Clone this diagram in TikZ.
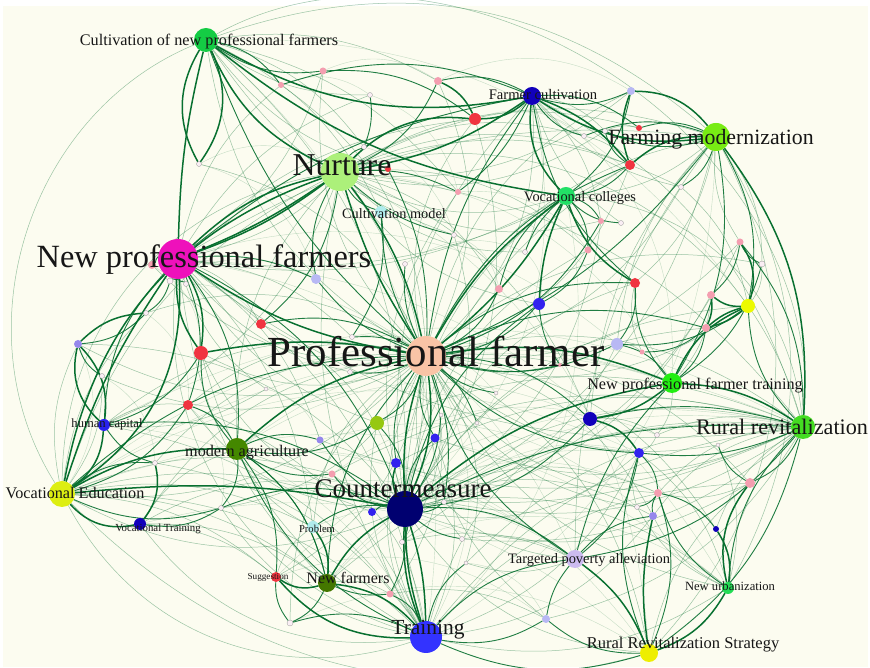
\documentclass[tikz,border=0pt]{standalone}
\usepackage{fontspec}
\setmainfont{Liberation Serif}
\pgfdeclarelayer{bglayer}
\pgfdeclarelayer{edgelayer}
\pgfsetlayers{bglayer,edgelayer,main}
% palette
\definecolor{bgc}{RGB}{252,252,240}
\definecolor{eg}{RGB}{8,112,48}
\definecolor{labc}{RGB}{22,22,22}
\definecolor{cred}{RGB}{240,52,64}
\definecolor{cpink}{RGB}{244,158,176}
\definecolor{cwhite}{RGB}{250,238,244}
\definecolor{clav}{RGB}{184,184,244}
\definecolor{cpurp}{RGB}{150,136,236}
\definecolor{cblue}{RGB}{50,34,238}
\definecolor{cnavy}{RGB}{17,0,187}
\definecolor{cyg}{RGB}{150,200,17}
\definecolor{cyel}{RGB}{236,250,0}
\definecolor{c1}{RGB}{20,204,68}
\definecolor{c3}{RGB}{120,236,20}
\definecolor{c4}{RGB}{172,240,122}
\definecolor{c5}{RGB}{176,236,236}
\definecolor{c6}{RGB}{34,224,102}
\definecolor{c7}{RGB}{238,17,187}
\definecolor{c8}{RGB}{249,196,166}
\definecolor{c9}{RGB}{34,238,17}
\definecolor{c10}{RGB}{68,220,34}
\definecolor{cblue2}{RGB}{40,34,238}
\definecolor{c12}{RGB}{68,136,0}
\definecolor{c12b}{RGB}{68,119,0}
\definecolor{c13}{RGB}{221,238,17}
\definecolor{c14}{RGB}{0,0,112}
\definecolor{c17}{RGB}{204,187,240}
\definecolor{c20}{RGB}{34,221,85}
\definecolor{c21}{RGB}{51,51,255}
\definecolor{c22}{RGB}{238,238,0}
\tikzset{
  dot/.style={circle, inner sep=0pt, outer sep=0pt},
  wdot/.style={dot, fill=cwhite, draw=black!40, line width=0.3pt},
  e1/.style={draw=eg, line width=1.5pt},
  e2/.style={draw=eg, line width=0.9pt, draw opacity=0.9},
  e3/.style={draw=eg, line width=0.5pt, draw opacity=0.4},
  e4/.style={draw=eg, line width=0.4pt, draw opacity=0.22},
  lab/.style={anchor=base, text=labc, inner sep=0pt},
}
\begin{document}
\begin{tikzpicture}[x=1pt,y=1pt]
\useasboundingbox (0,0) rectangle (870,668);
\begin{pgfonlayer}{bglayer}
  \fill[white] (0,0) rectangle (870,668);
  \fill[bgc] (3,1) rectangle (868,662);
\end{pgfonlayer}

% keyword nodes
\foreach \n/\x/\y/\d/\c in {
  cnpf/206/628/24/c1, fc/532/572/18/cnavy, fm/716/531/28/c3, nur/340/496/38/c4,
  cmod/381/456/12/c5, vc/566/472/18/c6, npf/178/409/40/c7, pf/426/312/40/c8,
  npft/672/285/20/c9, rr/803/241/24/c10, hc/104/243/12/cblue2, ma/237/219/22/c12,
  ve/62/174/26/c13, cm/405/159/36/c14, vt/140/144/12/cnavy, prob/313/141/12/c5,
  tpa/575/109/18/c17, sug/276/91/10/cred, nf/327/85/18/c12b, nu/728/80/12/c20,
  tr/426/31/32/c21, rrs/649/15/18/c22}
  \node[dot, fill=\c, minimum size=\d pt] (\n) at (\x,\y) {};

% minor coloured nodes
\foreach \n/\x/\y/\d/\c in {
  a1/281/583/6/cpink, a2/323/597/7/cpink, a3/438/587/8/cpink, a5/475/549/12/cred,
  a7/388/499/6/cred, a8/458/476/6/cpink, a10/631/577/8/clav, a11/639/540/6/cred,
  a13/630/503/10/cred, a16/152/403/8/cpink, a20/78/324/8/cpurp, a22/201/315/14/cred,
  a23/261/344/10/cred, a24/188/263/10/cred, a28/316/389/10/clav, a29/499/379/8/cpink,
  a30/539/364/12/cblue, a32/588/418/7/cpink, a35/377/245/14/cyg, a36/435/230/9/cblue,
  a37/320/228/7/cpurp, a38/590/249/14/cnavy, a42/601/447/6/cpink, a44/740/426/7/cpink,
  a46/635/385/10/cred, a47/711/373/8/cpink, a48/748/362/14/cyel, a49/706/340/8/cpink,
  a50/617/324/12/clav, a51/642/316/5/cpink, a56/396/205/10/cblue, a57/332/194/7/cpink,
  a58/372/156/8/cblue, a63/390/74/7/cpink, a64/546/49/8/clav, a65/639/215/10/cblue,
  a67/750/185/10/cpink, a68/658/175/8/cpink, a70/653/152/8/cpurp, a71/716/139/6/cnavy,
  a72/560/303/4/cpink}
  \node[dot, fill=\c, minimum size=\d pt] (\n) at (\x,\y) {};

% minor pale nodes
\foreach \n/\x/\y/\d in {
  a4/370/573/5, a6/364/521/5, a9/584/532/5, a12/605/537/5, a14/681/481/5,
  a15/199/504/5, a17/170/387/6, a18/186/384/5, a19/146/355/5, a21/102/292/5,
  a25/266/279/4, a26/454/433/5, a27/405/404/5, a31/525/416/5, a33/352/331/5,
  a34/350/296/5, a39/441/253/4, a40/477/245/4, a41/496/275/4, a43/621/445/5,
  a45/762/404/6, a52/657/233/5, a53/155/205/5, a54/221/160/5, a55/290/45/6,
  a59/444/166/5, a60/402/126/5, a61/462/129/5, a62/466/105/4, a66/718/223/4,
  a69/637/161/5}
  \node[wdot, minimum size=\d pt] (\n) at (\x,\y) {};

\begin{pgfonlayer}{edgelayer}
% long outer arcs
\draw[e3] (cnpf) to[bend left=30] (fm);
\draw[e3] (cnpf) to[bend left=62] (rr);
\draw[e3] (ve) to[bend left=50] (cnpf);
\draw[e3] (ve) to[bend left=40] (nur);
\draw[e3] (ve) to[bend right=40] (tr);
\draw[e3] (vt) to[bend right=30] (tr);
\draw[e3] (ve) to[bend right=30] (rrs);
\draw[e3] (fm) to[bend left=35] (rrs);
\draw[e3] (fm) to[bend left=30] (nu);
\draw[e3] (vc) to[bend left=40] (rr);
\draw[e3] (nur) to[bend left=45] (rr);
\draw[e3] (npf) to[bend right=40] (tr);

% faint mesh
\foreach \a/\b in {
  pf/cnpf, fc/pf, pf/fm, pf/rr, hc/pf, pf/ve, vt/pf, prob/pf, pf/sug, nu/pf, tr/pf, pf/rrs,
  a1/pf, pf/a5, a13/pf, pf/a22, a24/pf, pf/a20, a48/pf, pf/a67, a68/pf, pf/a70, a64/pf,
  pf/a63, a44/pf, pf/a45, a14/pf, pf/a10, a3/pf, pf/a2, a15/pf, pf/a16, a19/pf, pf/a21,
  a53/pf, pf/a54, a55/pf, pf/a60, a61/pf, pf/a62, a66/pf, pf/a71, a69/pf,
  cnpf/cm, cm/fc, fm/cm, cm/vc, nur/cm, cm/rr, cm/ve, vt/cm, cm/nu, rrs/cm, cm/a13,
  a5/cm, cm/a48, a50/cm, cm/a46, a67/cm, cm/a68, a65/cm, cm/a70, a20/cm, cm/a22,
  a23/cm, cm/a24, a44/cm, cm/a49, a47/cm, cm/a32, a42/cm, cm/a8, a26/cm}
  \draw[e3] (\a) to[bend left=25] (\b);
\foreach \a/\b in {
  tr/npf, nur/tr, tr/ve, tr/hc, rr/tr, tr/nu, a67/tr, tr/a65, a38/tr, tr/a70, a22/tr,
  tr/a24, a54/tr, tr/a53, a35/tr, tr/a36, a56/tr, tr/a57,
  rr/nur, npf/rr, rr/fc, ma/rr, rr/a35, a36/rr, rr/a56, rr/a68, a59/rr, rr/nf, a37/rr,
  rr/a57, rr/a60, a61/rr, rr/a62, a64/rr, rr/a70,
  fm/nur, nur/vc, a13/nur, nur/a10, a11/nur, nur/ve, hc/nur, nur/ma, a38/nur, nur/a30,
  a29/nur, nur/a31, a32/nur, nur/a42, a9/nur, nur/a12, a14/nur}
  \draw[e3] (\a) to[bend right=22] (\b);
\foreach \a/\b in {
  npf/fm, vc/npf, npf/a5, a13/npf, nf/npf, npf/prob, a35/npf, npf/a1, a2/npf, npf/a4,
  a6/npf, npf/a23, a25/npf, npf/a33, a34/npf, npf/a37,
  fm/vc, a50/fm, fm/a46, a38/fm, tpa/fm, cnpf/a3, a4/cnpf, cnpf/a6, a7/cnpf, cnpf/a8,
  cnpf/cmod, a26/cnpf, fc/a12, a14/fc, fc/a42, a43/fc, fc/a31, ve/a20, a21/ve, ve/a19,
  hc/a24, a25/hc, vt/ma, prob/ma, sug/prob, vt/sug, ve/sug, ve/nf, vt/nf, nf/a63,
  a63/a64, tpa/a62, a61/tpa, tpa/a59, a60/tpa, nu/a70, a65/nu, nu/a69, a66/nu, a71/rr,
  rrs/a67, a67/a68, a69/a65, a52/a65, a52/rr, npft/a52, a38/a52, a50/a51, a51/a46,
  a47/npft, a45/a48, a44/fm, fm/a45, a14/a48, a9/a13, a12/a11, ve/prob, ve/a57, ve/a58}
  \draw[e3] (\a) to[bend left=18] (\b);
\foreach \a/\b in {
  pf/tr, ve/rr, hc/tr, npf/tpa, nur/rrs, fc/cm, fm/tr, vc/tr, cnpf/tr, npf/nu, ma/rrs,
  ve/tpa, vt/rrs, hc/rr, ve/npft, ma/npft, nf/rr, sug/rr, prob/tpa, a53/nu, a54/tpa,
  nur/npft, fc/npft, cnpf/a48, npf/a50, ve/a65, ma/a38, nf/a65, sug/a64, a55/rrs,
  a57/a52, a37/a69, a58/a68, a60/nu, a62/a64, a59/a65, a33/a41, a34/a39, a27/a31,
  a26/a29, a6/a26, a4/a8, a1/a4, a2/a3, a3/a10, a5/a9, a8/a32, a31/a30, a25/a37,
  a21/a53, a19/a24, a16/a22, a18/a23, a17/a28, a15/a28, a15/nur, a20/ve, a24/a54}
  \draw[e4] (\a) to[bend left=28] (\b);

% medium links
\foreach \a/\b in {
  cnpf/a1, a2/cnpf, a2/a5, a1/fc, nur/a7, a3/nur, a3/fc, cmod/nur, cmod/a33, nur/a23,
  a28/nur, a16/npf, npf/a17, a18/npf, a17/a19, a19/a20, a21/a20, npf/a24, hc/npf,
  npf/ma, npf/cm, a22/hc, ma/a22, a23/pf, a24/ve, a24/ma, hc/cm, a53/hc, ve/pf,
  ve/a53, a54/ve, a54/vt, ma/a54, a54/cm, ma/a37, ma/nf, tr/ma, a35/ma, pf/a35,
  a35/cm, a36/pf, cm/a36, a56/pf, a58/cm, cm/a57, a57/ma, cm/tpa, a59/cm, a38/cm,
  cm/a30, a63/tr, a64/tr, tr/tpa, rrs/tr, a55/tr, tr/a62, nf/a55, a55/sug}
  \draw[e2] (\a) to[bend left=20] (\b);
\foreach \a/\b in {
  nf/ma, pf/nf, cm/prob, sug/ma, a70/tpa, tpa/a65, tpa/rr, pf/tpa, rrs/a68, rrs/rr,
  a65/rrs, a64/rrs, a68/a70, a69/a68, a68/a65, pf/a65, a67/rr, rr/nu, a68/nu, a66/a67,
  a71/a68, a38/pf, npft/a50, a50/a48, pf/a50, a50/a46, a51/a49, a46/pf, fc/a46,
  a46/npft, a47/a44, a44/a45, npft/a45, rr/a44, a48/rr, npft/a49, a49/pf, a48/fm,
  npft/fm, a14/fm, fm/a9, fm/a11, a12/fm, fc/a10, vc/a10, a11/fc, vc/a13, a13/pf,
  a12/a13, fc/a9, a42/vc, vc/a43, a32/vc, pf/a42, a30/a32, vc/a29, pf/a29, pf/a30}
  \draw[e2] (\a) to[bend right=20] (\b);
\foreach \a/\b in {
  a31/vc, fc/a8, nur/a8, a26/nur, pf/a27, pf/cmod, a4/a6, nur/a6, a7/pf, pf/a28,
  npf/a28, a33/pf, pf/a34, cm/a37, a39/cm, pf/a40, a41/pf, pf/a59, cm/a60, a61/cm,
  a64/tpa, cm/a63, a63/nf, pf/fc, fm/pf, npf/fc, pf/cnpf, tpa/npft, cm/rr, a38/rr,
  rr/a65, a72/pf, a72/a30}
  \draw[e2] (\a) to[bend left=14] (\b);

% strongest links
\foreach \a/\b/\c in {
  cnpf/a15/30, a15/cnpf/30, cnpf/npf/-6, cnpf/nur/-20, npf/nur/15, nur/npf/8,
  npf/nur/-6, npf/ve/30, ve/npf/8, ve/nur/30, npf/a22/18, a22/npf/18, npf/pf/-12,
  nur/pf/12, pf/nur/8, nur/a5/25, nur/fc/-12, fc/a5/20, fc/fm/-20, vc/fc/25,
  fc/a13/15, a10/fm/25, a13/a10/20, fm/a13/-20, vc/pf/10, pf/vc/12, vc/a30/-10,
  a46/vc/20, a48/a49/12, a49/a48/12, a48/a47/20, npft/a48/20, a44/a48/25, a20/hc/25,
  hc/a20/30, a20/a19/20, hc/ve/25, ve/ma/15, ve/cm/8, vt/ve/30, vt/a53/-25, ma/pf/15,
  cm/tr/8, tr/cm/8, cm/tr/-12, nf/cm/15, cm/a56/20, pf/cm/15, cm/pf/10, nf/tr/20,
  sug/tr/-25, nf/sug/25, prob/nf/20, rrs/a70/10, tpa/rrs/15, nu/rrs/20, a71/nu/20,
  nu/a67/25, a38/a65/20, npft/a38/15, pf/npft/15, cm/npft/15, a47/a49/15, fc/cnpf/20,
  a3/a5/20, cnpf/vc/-15, rr/fm/-20, npft/rr/15, a22/pf/10}
  \draw[e1] (\a) to[bend left=\c] (\b);
\end{pgfonlayer}

% keyword labels
\foreach \n/\x/\y/\s/\t in {
  cnpf/209/622/16.2/Cultivation of new professional farmers,
  fc/543/568/14.6/Farmer cultivation,
  fm/711/523/21.8/Farming modernization,
  nur/342/492/31.8/Nurture,
  cmod/394/449/14.3/Cultivation model,
  vc/580/466/14.4/Vocational colleges,
  npf/204/400/32.4/New professional farmers,
  pf/436/301/42.9/Professional farmer,
  npft/695/278/16.2/New professional farmer training,
  rr/782/233/22.2/Rural revitalization,
  hc/107/240/12.6/human capital,
  ma/247/211/16.2/modern agriculture,
  ve/75/169/16.2/Vocational Education,
  cm/403/170/27/Countermeasure,
  vt/158/136/10.8/Vocational Training,
  prob/317/135/10.6/Problem,
  tpa/589/104/14.4/Targeted poverty alleviation,
  sug/268/88/9.2/Suggestion,
  nf/348/84/16/New farmers,
  nu/730/77/12.6/New urbanization,
  tr/428/33/21.5/Training,
  rrs/683/19/16.5/Rural Revitalization Strategy}
  \node[lab, font=\fontsize{\s}{\s}\selectfont] (l-\n) at (\x,\y) {\t};
\end{tikzpicture}
\end{document}
